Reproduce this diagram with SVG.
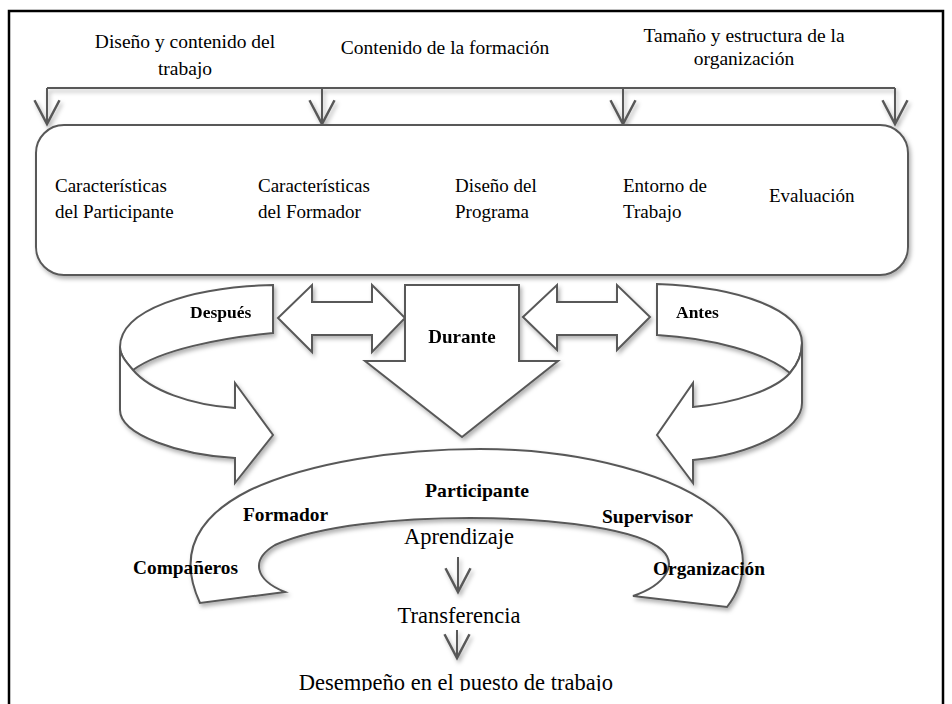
<svg xmlns="http://www.w3.org/2000/svg" width="952" height="704" viewBox="0 0 952 704">
<defs>
<style>
.ln{stroke:#595959;stroke-width:2;fill:none}
.sh{fill:#fff;stroke:#595959;stroke-width:2;stroke-linejoin:miter}
.t{font-family:"Liberation Serif","DejaVu Serif",serif;fill:#000}
.r19{font-size:19px}
.r20{font-size:19.5px}
.r22{font-size:22.5px}
.b{font-weight:bold;font-size:19px}
.c{text-anchor:middle}
</style>
<filter id="shadow" x="-10%" y="-10%" width="120%" height="130%">
<feDropShadow dx="2" dy="3" stdDeviation="2" flood-color="#000" flood-opacity="0.3"/>
</filter>
<marker id="v" markerUnits="userSpaceOnUse" orient="auto" markerWidth="30" markerHeight="30" refX="0" refY="0" viewBox="-22 -12 24 24" overflow="visible">
<path d="M-19,-10 L0,0 L-19,10" fill="none" stroke="#595959" stroke-width="2"/>
</marker>
<clipPath id="clipBottom"><rect x="0" y="0" width="952" height="691"/></clipPath>
</defs>

<rect width="952" height="704" fill="#fff"/>
<path id="frame" d="M9,704 V11 H943 V704" fill="none" stroke="#000" stroke-width="2.5"/>

<g id="top-labels" class="t r20">
<text x="185" y="48" class="c">Diseño y contenido del</text>
<text x="185" y="75" class="c">trabajo</text>
<text x="445" y="54" class="c">Contenido de la formación</text>
<text x="744" y="41.5" class="c">Tamaño y estructura de la</text>
<text x="744" y="65" class="c">organización</text>
</g>

<g id="connectors" filter="url(#shadow)">
<path class="ln" d="M47,88 H895"/>
<path class="ln" d="M47,88 V124" marker-end="url(#v)"/>
<path class="ln" d="M322,88 V124" marker-end="url(#v)"/>
<path class="ln" d="M623,88 V124" marker-end="url(#v)"/>
<path class="ln" d="M895,88 V124" marker-end="url(#v)"/>
<path class="ln" d="M458,557 V592" marker-end="url(#v)"/>
<path class="ln" d="M457,630 V658" marker-end="url(#v)"/>
</g>

<g id="factors">
<rect class="sh" x="36" y="125" width="872" height="150" rx="28" ry="28" filter="url(#shadow)"/>
<g class="t r19">
<text x="55" y="192">Características</text>
<text x="55" y="218">del Participante</text>
<text x="258" y="192">Características</text>
<text x="258" y="218">del Formador</text>
<text x="455" y="192">Diseño del</text>
<text x="455" y="218">Programa</text>
<text x="623" y="192">Entorno de</text>
<text x="623" y="218">Trabajo</text>
<text x="769" y="202">Evaluación</text>
</g>
</g>

<g id="despues" filter="url(#shadow)">
<path class="sh" d="M273,285 L273,333 C220,338 160,350 133,370 C126,362 120,355 120,347 C120,310 190,287 273,285 Z"/>
<path class="sh" d="M120,347 C120,355 126,362 133,370 C150,390 190,405 235,408 L235,383 L273,435 L235,483 L235,458 C180,455 120,435 120,410 Z"/>
<text x="190" y="318" class="t b" style="font-size:17.5px">Después</text>
</g>

<g id="antes" filter="url(#shadow)">
<path class="sh" d="M657,284 L657,335 C710,338 765,352 790,373 C797,365 802,355 802,343 C802,310 740,287 657,284 Z"/>
<path class="sh" d="M802,343 C802,355 797,365 790,373 C775,390 735,403 693,407 L693,383 L657,435 L693,483 L693,460 C750,455 802,430 802,403 Z"/>
<text x="676" y="318" class="t b" style="font-size:17.5px">Antes</text>
</g>

<g id="double-left" filter="url(#shadow)">
<path class="sh" d="M278,318 L312,285 L312,302 L372,302 L372,285 L405,318 L372,352 L372,335 L312,335 L312,352 Z"/>
</g>

<g id="double-right" filter="url(#shadow)">
<path class="sh" d="M523,317 L557,285 L557,302 L617,302 L617,285 L650,317 L617,350 L617,335 L557,335 L557,350 Z"/>
</g>

<g id="durante" filter="url(#shadow)">
<path class="sh" d="M405,285 L519,285 L519,361 L558,361 L462,437 L365,361 L405,361 Z"/>
<text x="462" y="343" class="t b c">Durante</text>
</g>

<g id="actores" filter="url(#shadow)">
<path class="sh" d="M200,603 C180,560 190,520 250,490 C310,462 400,449 480,449 C580,449 680,475 722,515 C750,542 748,580 727,607 L633,596 C665,585 678,565 662,550 C640,530 560,518 470,518 C400,518 320,525 275,545 C250,560 255,580 285,592 Z"/>
</g>

<g id="labels" class="t">
<text x="425" y="497" class="b" textLength="104" lengthAdjust="spacingAndGlyphs">Participante</text>
<text x="243" y="521" class="b" textLength="85" lengthAdjust="spacingAndGlyphs">Formador</text>
<text x="133" y="574" class="b" textLength="105" lengthAdjust="spacingAndGlyphs">Compañeros</text>
<text x="602" y="523" class="b" textLength="91" lengthAdjust="spacingAndGlyphs">Supervisor</text>
<text x="653" y="575" class="b" textLength="112" lengthAdjust="spacingAndGlyphs">Organización</text>
</g>

<g id="aprendizaje"><text x="459" y="544" class="t r22 c">Aprendizaje</text></g>
<g id="transferencia"><text x="459" y="623" class="t r22 c">Transferencia</text></g>
<g id="desempeno" clip-path="url(#clipBottom)"><text x="456" y="690" class="t r22 c">Desempeño en el puesto de trabajo</text></g>
</svg>
